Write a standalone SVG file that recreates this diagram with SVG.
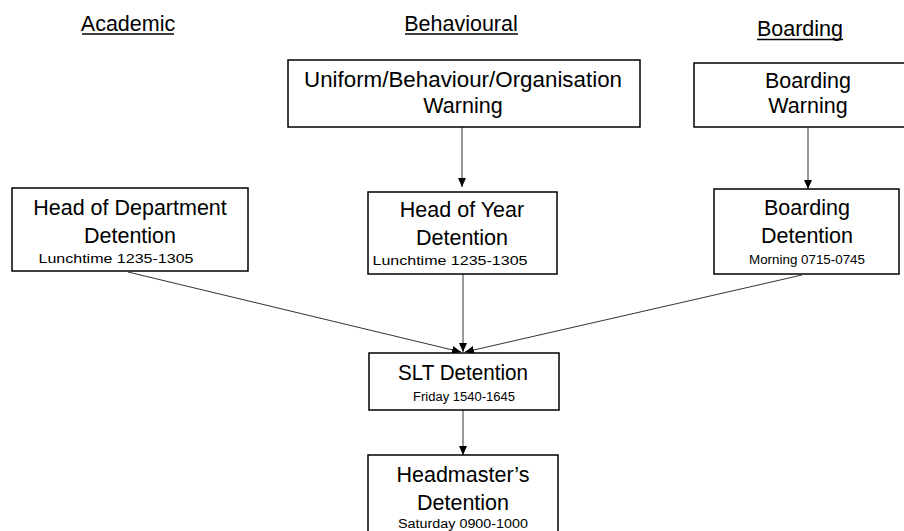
<svg xmlns="http://www.w3.org/2000/svg" width="904" height="531" viewBox="0 0 904 531">
<style>
.box{fill:#fff;stroke:#000;stroke-width:1.5}
.t{font-family:"Liberation Sans",Arial,sans-serif;font-size:21.5px;fill:#000;text-anchor:middle}
.s{font-family:"Liberation Sans",Arial,sans-serif;font-size:12.5px;fill:#000;text-anchor:middle}
.ul{stroke:#000;stroke-width:1.3}
.c{stroke:#333;stroke-width:1;fill:none;marker-end:url(#ah)}
</style>
<defs>
<marker id="ah" markerUnits="userSpaceOnUse" markerWidth="10" markerHeight="10" viewBox="0 0 10 10" refX="9" refY="5" orient="auto">
<path d="M0,1 L9,5 L0,9 Z" fill="#000"/>
</marker>
</defs>
<rect width="904" height="531" fill="#fff"/>
<g id="headings">
<text class="t" x="128" y="31">Academic</text>
<line class="ul" x1="82" y1="34" x2="174" y2="34"/>
<text class="t" x="461" y="31">Behavioural</text>
<line class="ul" x1="405" y1="34" x2="518" y2="34"/>
<text class="t" x="800" y="36">Boarding</text>
<line class="ul" x1="757" y1="39.5" x2="843" y2="39.5"/>
</g>
<g id="connectors">
<line class="c" x1="462" y1="127" x2="462" y2="187"/>
<line class="c" x1="808" y1="127" x2="808" y2="189"/>
<line class="c" x1="128" y1="272" x2="461" y2="352"/>
<line class="c" x1="463" y1="274" x2="463" y2="352"/>
<line class="c" x1="802" y1="275" x2="465" y2="352"/>
<line class="c" x1="463" y1="410" x2="463" y2="455"/>
</g>
<g id="uniform-warning">
<rect class="box" x="288" y="60" width="352" height="67"/>
<text class="t" x="463" y="87" textLength="318" lengthAdjust="spacingAndGlyphs">Uniform/Behaviour/Organisation</text>
<text class="t" x="463" y="113">Warning</text>
</g>
<g id="boarding-warning">
<rect class="box" x="694" y="63" width="230" height="64"/>
<text class="t" x="808" y="88">Boarding</text>
<text class="t" x="808" y="113">Warning</text>
</g>
<g id="hod-detention">
<rect class="box" x="12" y="188" width="236" height="83"/>
<text class="t" x="130" y="215">Head of Department</text>
<text class="t" x="130" y="243">Detention</text>
<text class="s" x="116" y="263" textLength="155" lengthAdjust="spacingAndGlyphs">Lunchtime 1235-1305</text>
</g>
<g id="hoy-detention">
<rect class="box" x="368" y="192" width="189" height="82"/>
<text class="t" x="462" y="217">Head of Year</text>
<text class="t" x="462" y="245">Detention</text>
<text class="s" x="450" y="265" textLength="155" lengthAdjust="spacingAndGlyphs">Lunchtime 1235-1305</text>
</g>
<g id="boarding-detention">
<rect class="box" x="714" y="189" width="185" height="85"/>
<text class="t" x="807" y="215">Boarding</text>
<text class="t" x="807" y="243">Detention</text>
<text class="s" x="807" y="264" textLength="116" lengthAdjust="spacingAndGlyphs">Morning 0715-0745</text>
</g>
<g id="slt-detention">
<rect class="box" x="369" y="353" width="190" height="57"/>
<text class="t" x="463" y="380" textLength="130" lengthAdjust="spacingAndGlyphs">SLT Detention</text>
<text class="s" x="464" y="401" textLength="102" lengthAdjust="spacingAndGlyphs">Friday 1540-1645</text>
</g>
<g id="headmasters-detention">
<rect class="box" x="368" y="455" width="190" height="90"/>
<text class="t" x="463" y="482">Headmaster’s</text>
<text class="t" x="463" y="510">Detention</text>
<text class="s" x="463" y="528" textLength="130" lengthAdjust="spacingAndGlyphs">Saturday 0900-1000</text>
</g>
</svg>
